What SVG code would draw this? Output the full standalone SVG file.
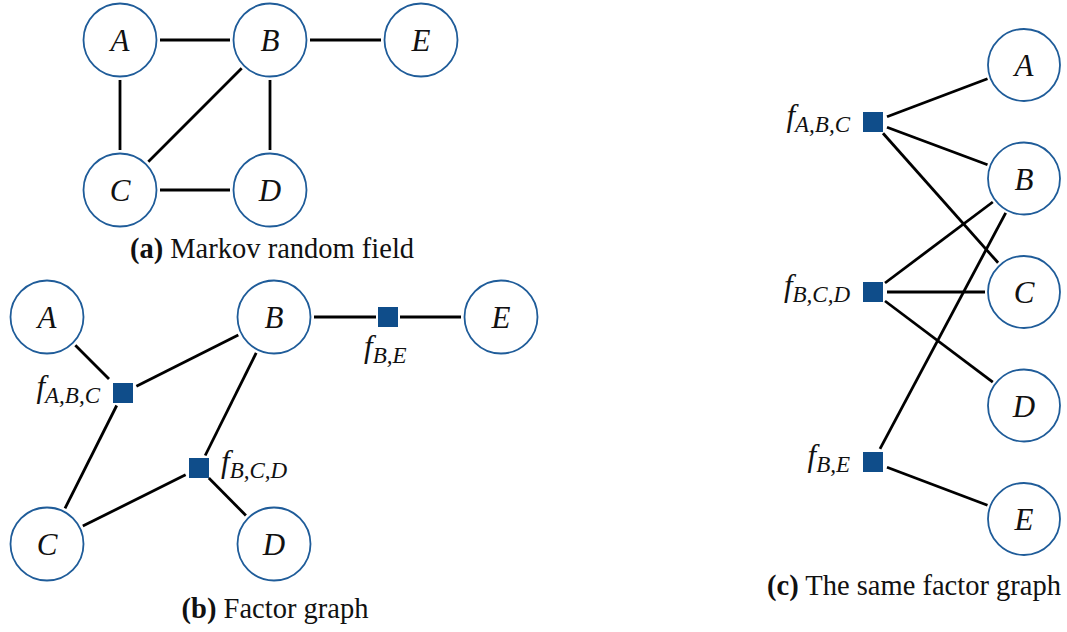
<svg xmlns="http://www.w3.org/2000/svg" width="1067" height="632" viewBox="0 0 1067 632">
<style>
.n{fill:#fff;stroke:#1f5c99;stroke-width:1.8}
.f{fill:#0f4d8a}
.e{stroke:#000;stroke-width:2.8;fill:none}
.lb{font-family:"Liberation Serif",serif;font-style:italic;font-size:31px;fill:#111;text-anchor:middle}
.fl{font-family:"Liberation Serif",serif;font-style:italic;fill:#111}
.fl .m{font-size:31px}
.fl .s{font-size:23px}
.cap{font-family:"Liberation Serif",serif;font-size:28.5px;fill:#111}
.cap .b{font-weight:bold}
</style>
<rect width="1067" height="632" fill="#fff"/>
<g id="connectors" class="e">
<!-- (a) -->
<line x1="160" y1="40" x2="230" y2="40"/>
<line x1="310" y1="40" x2="381" y2="40"/>
<line x1="120" y1="80" x2="120" y2="150"/>
<line x1="270" y1="80" x2="270" y2="150"/>
<line x1="160" y1="190" x2="230" y2="190"/>
<line x1="241.7" y1="68.3" x2="148.3" y2="161.7"/>
<!-- (b) -->
<line x1="75.3" y1="345.3" x2="109" y2="379"/>
<line x1="136.4" y1="386.3" x2="238.3" y2="335"/>
<line x1="116.7" y1="405.5" x2="65" y2="508.3"/>
<line x1="82.8" y1="526.1" x2="185.6" y2="474.7"/>
<line x1="208.8" y1="478" x2="245.9" y2="515.5"/>
<line x1="205.2" y1="455.5" x2="256.2" y2="352.9"/>
<line x1="314" y1="317" x2="376" y2="317"/>
<line x1="400" y1="317" x2="461" y2="317"/>
<!-- (c) -->
<line x1="887" y1="116.7" x2="987.5" y2="78.8"/>
<line x1="887" y1="127.3" x2="987.5" y2="164.8"/>
<line x1="883" y1="133.2" x2="998.1" y2="262.8"/>
<line x1="885" y1="283" x2="992.8" y2="202"/>
<line x1="887" y1="292" x2="985" y2="292"/>
<line x1="885" y1="301" x2="992.8" y2="382.1"/>
<line x1="880" y1="448.8" x2="1005.7" y2="212.9"/>
<line x1="887" y1="467.3" x2="987.5" y2="505.2"/>
</g>
<!-- (a) Markov random field -->
<g id="a_A"><circle class="n" cx="120" cy="40" r="36.5"/><text class="lb" x="120" y="51">A</text></g>
<g id="a_B"><circle class="n" cx="270" cy="40" r="36.5"/><text class="lb" x="270" y="51">B</text></g>
<g id="a_E"><circle class="n" cx="421" cy="40" r="36.5"/><text class="lb" x="421" y="51">E</text></g>
<g id="a_C"><circle class="n" cx="120" cy="190" r="36.5"/><text class="lb" x="120" y="201">C</text></g>
<g id="a_D"><circle class="n" cx="270" cy="190" r="36.5"/><text class="lb" x="270" y="201">D</text></g>
<text class="cap" x="272" y="258" text-anchor="middle"><tspan class="b">(a)</tspan> Markov random field</text>
<!-- (b) Factor graph -->
<g id="b_A"><circle class="n" cx="47" cy="317" r="36.5"/><text class="lb" x="47" y="328">A</text></g>
<g id="b_B"><circle class="n" cx="274" cy="317" r="36.5"/><text class="lb" x="274" y="328">B</text></g>
<g id="b_E"><circle class="n" cx="501" cy="317" r="36.5"/><text class="lb" x="501" y="328">E</text></g>
<g id="b_C"><circle class="n" cx="47" cy="544" r="36.5"/><text class="lb" x="47" y="555">C</text></g>
<g id="b_D"><circle class="n" cx="274" cy="544" r="36.5"/><text class="lb" x="274" y="555">D</text></g>
<g id="b_fABC"><rect class="f" x="113" y="383" width="20" height="20"/><text class="fl" x="100" y="397" text-anchor="end"><tspan class="m">f</tspan><tspan class="s" dy="6">A,B,C</tspan></text></g>
<g id="b_fBCD"><rect class="f" x="189" y="458" width="20" height="20"/><text class="fl" x="221" y="472"><tspan class="m">f</tspan><tspan class="s" dy="6">B,C,D</tspan></text></g>
<g id="b_fBE"><rect class="f" x="378" y="307" width="20" height="20"/><text class="fl" x="364" y="357"><tspan class="m">f</tspan><tspan class="s" dy="6">B,E</tspan></text></g>
<text class="cap" x="275" y="618" text-anchor="middle"><tspan class="b">(b)</tspan> Factor graph</text>
<!-- (c) The same factor graph -->
<g id="c_A"><circle class="n" cx="1024" cy="65" r="36"/><text class="lb" x="1024" y="76">A</text></g>
<g id="c_B"><circle class="n" cx="1024" cy="178.5" r="36"/><text class="lb" x="1024" y="189.5">B</text></g>
<g id="c_C"><circle class="n" cx="1024" cy="292" r="36"/><text class="lb" x="1024" y="303">C</text></g>
<g id="c_D"><circle class="n" cx="1024" cy="405.5" r="36"/><text class="lb" x="1024" y="416.5">D</text></g>
<g id="c_E"><circle class="n" cx="1024" cy="519" r="36"/><text class="lb" x="1024" y="530">E</text></g>
<g id="c_fABC"><rect class="f" x="863" y="112" width="20" height="20"/><text class="fl" x="850" y="126" text-anchor="end"><tspan class="m">f</tspan><tspan class="s" dy="6">A,B,C</tspan></text></g>
<g id="c_fBCD"><rect class="f" x="863" y="282" width="20" height="20"/><text class="fl" x="850" y="296" text-anchor="end"><tspan class="m">f</tspan><tspan class="s" dy="6">B,C,D</tspan></text></g>
<g id="c_fBE"><rect class="f" x="863" y="452" width="20" height="20"/><text class="fl" x="850" y="466" text-anchor="end"><tspan class="m">f</tspan><tspan class="s" dy="6">B,E</tspan></text></g>
<text class="cap" x="914" y="595" text-anchor="middle"><tspan class="b">(c)</tspan> The same factor graph</text>
</svg>
